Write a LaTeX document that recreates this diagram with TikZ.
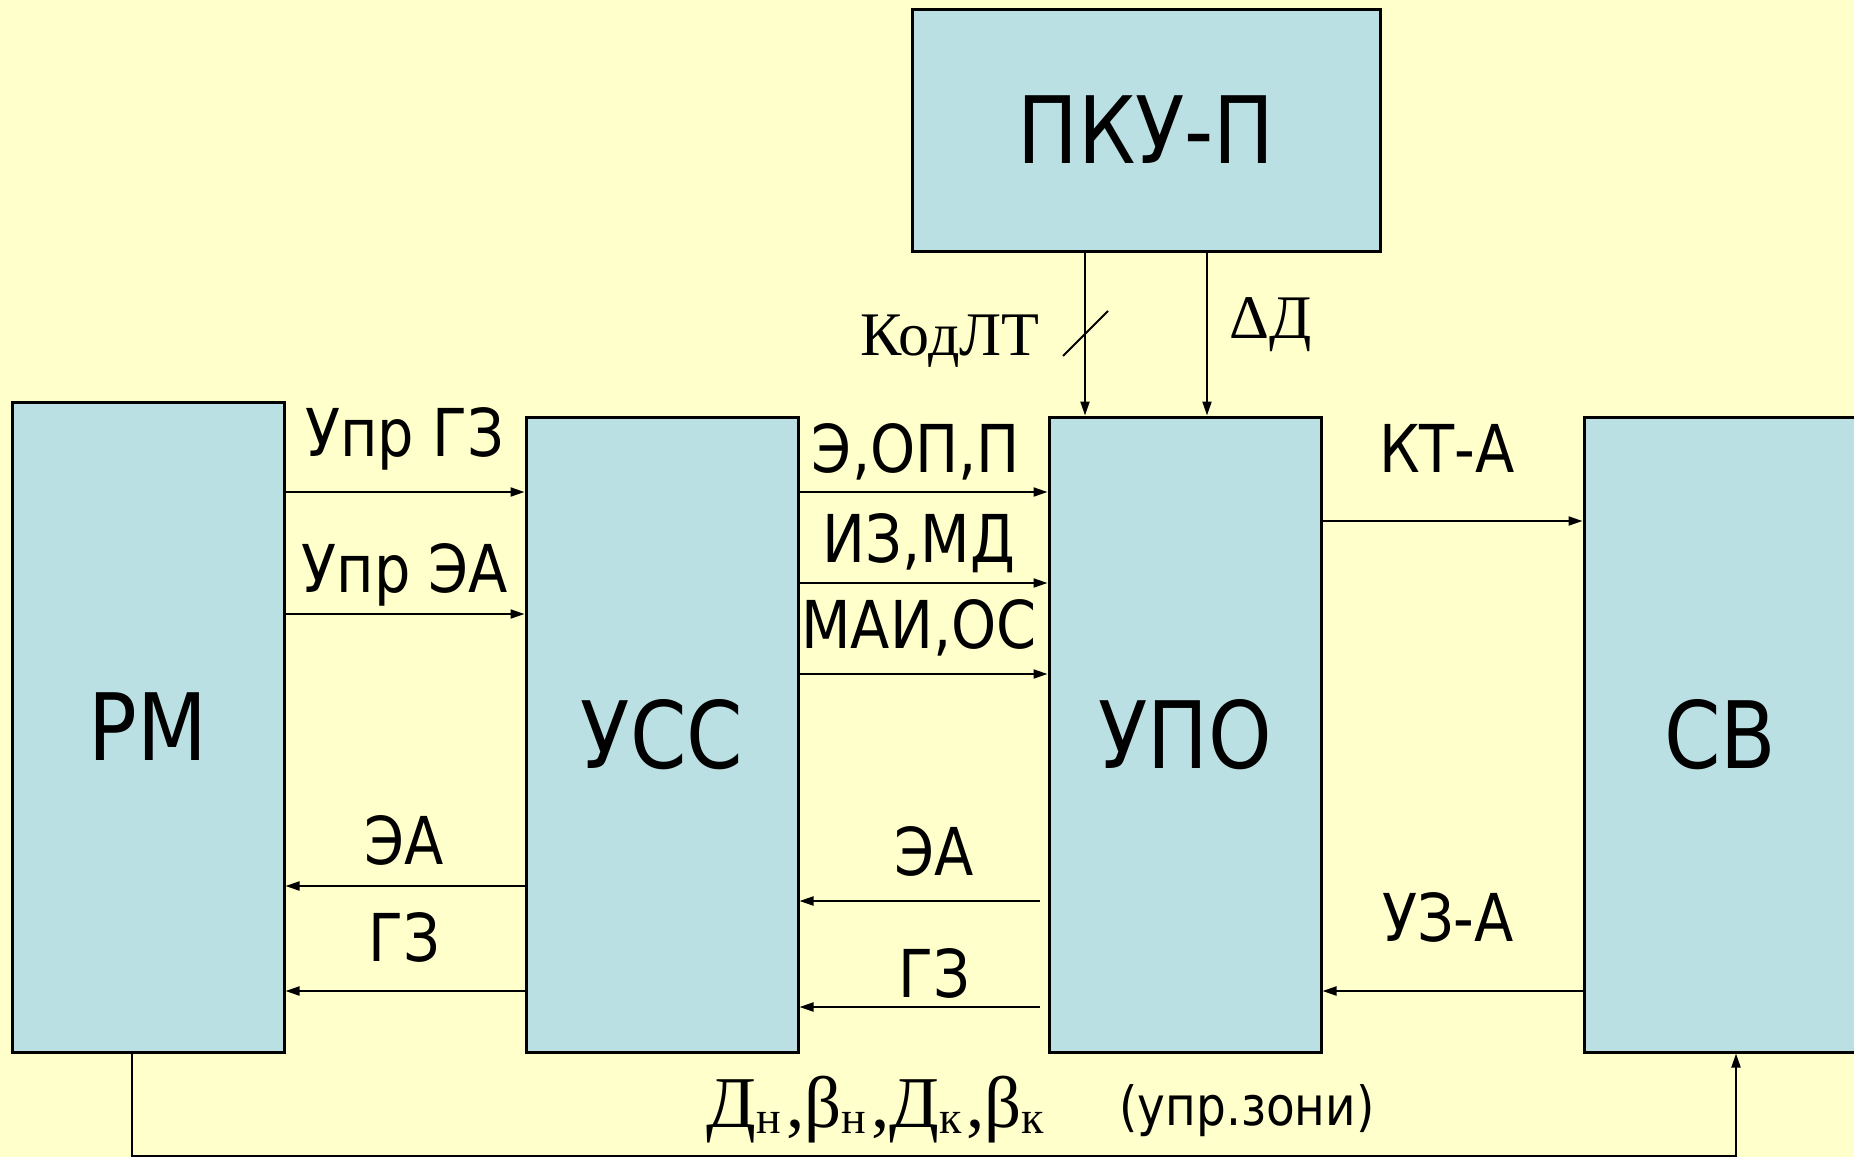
\documentclass[tikz,border=0pt]{standalone}
\usepackage{fontspec}
\usepackage{tikz}
\usetikzlibrary{arrows.meta, positioning, calc}
\newfontfamily\tahomalike{DejaVu Sans}[FakeStretch=0.87]
\newfontfamily\romanfont{Liberation Serif}
\definecolor{slidebg}{RGB}{255, 255, 204}
\definecolor{unitblue}{RGB}{187, 224, 227}
\newcommand\lowidx[1]{\raisebox{-6pt}{\fontsize{46}{46}\selectfont #1}\kern5pt}

\begin{document}
\begin{tikzpicture}[
          x=1pt, y=-1pt,
          unit/.style={rectangle, fill=unitblue, draw=black, line width=3pt, minimum width=272pt, minimum height=635pt, inner sep=0pt, font=\tahomalike\fontsize{93}{93}\selectfont},
          sig/.style={anchor=base, inner sep=0pt, font=\tahomalike\fontsize{66}{66}\selectfont},
          serifsig/.style={anchor=base, inner sep=0pt, font=\romanfont\fontsize{62}{62}\selectfont},
          conn/.style={line width=2pt, -{Triangle[length=14pt, width=9pt]}}
        ]
          \useasboundingbox (0,0) rectangle (1854,1157);
          \fill[slidebg] (0,0) rectangle (1854,1157);

          % Units
          \node[unit, minimum width=468pt, minimum height=242pt] (pku) at (1146,130) {ПКУ-П};
          \node[unit, minimum height=650pt] (rm) at (148,727) {РМ};
          \node[unit] (uss) at (662,734.5) {УСС};
          \node[unit] (upo) at (1185,734.5) {УПО};
          \node[unit] (sv) at (1720,734.5) {СВ};

          % RM <-> USS
          \draw[conn] (rm.east |- 0,492) -- (uss.west |- 0,492);
          \draw[conn] (rm.east |- 0,614) -- (uss.west |- 0,614);
          \draw[conn] (uss.west |- 0,886) -- (rm.east |- 0,886);
          \draw[conn] (uss.west |- 0,991) -- (rm.east |- 0,991);
          \node[sig] (uprgz) at (405,456) {Упр ГЗ};
          \node[sig] (uprea) at (405,592) {Упр ЭА};
          \node[sig] (ea1) at (404,864) {ЭА};
          \node[sig] (gz1) at (404,961) {ГЗ};

          % USS <-> UPO
          \draw[conn] (uss.east |- 0,492) -- (upo.west |- 0,492);
          \draw[conn] (uss.east |- 0,583) -- (upo.west |- 0,583);
          \draw[conn] (uss.east |- 0,674) -- (upo.west |- 0,674);
          \draw[conn] ([xshift=-8pt]upo.west |- 0,901) -- (uss.east |- 0,901);
          \draw[conn] ([xshift=-8pt]upo.west |- 0,1007) -- (uss.east |- 0,1007);
          \node[sig] (eop) at (916,472) {Э,ОП,П};
          \node[sig] (izmd) at (919,562) {ИЗ,МД};
          \node[sig] (maios) at (919,648) {МАИ,ОС};
          \node[sig] (ea2) at (934,875) {ЭА};
          \node[sig] (gz2) at (934,997) {ГЗ};

          % UPO <-> SV
          \draw[conn] (upo.east |- 0,521) -- (sv.west |- 0,521);
          \draw[conn] (sv.west |- 0,991) -- (upo.east |- 0,991);
          \node[sig] (kta) at (1447,472) {КТ-А};
          \node[sig] (uza) at (1448,941) {УЗ-А};

          % PKU-P -> UPO
          \draw[conn] (pku.south -| 1085,0) -- (upo.north -| 1085,0);
          \draw[conn] (pku.south -| 1207,0) -- (upo.north -| 1207,0);
          \draw[line width=2pt] (1063,356) -- (1108,311);
          \node[serifsig] (kodlt) at (950,355) {КодЛТ};
          \node[serifsig] (deltad) at (1271,338) {ΔД};

          % RM -> SV (zones)
          \draw[conn] (rm.south -| 132,0) -- (132,1156) -| (sv.south -| 1736,0);
          \node[serifsig, font=\romanfont\fontsize{73}{73}\selectfont] (zonepar) at (878,1127) {Д\lowidx{н},β\lowidx{н},Д\lowidx{к},β\lowidx{к}};
          \node[sig, font=\tahomalike\fontsize{54}{54}\selectfont] (zonenote) at (1247,1125) {(упр.зони)};
        \end{tikzpicture}
\end{document}
